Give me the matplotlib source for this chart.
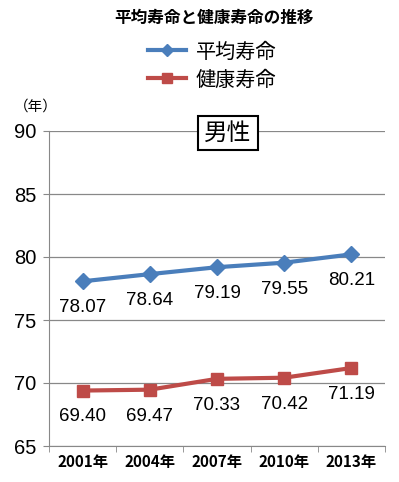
import matplotlib.pyplot as plt
from matplotlib.lines import Line2D

plt.rcParams['font.family'] = ['Noto Sans CJK JP', 'DejaVu Sans']

years = ["2001年", "2004年", "2007年", "2010年", "2013年"]
heikin = [78.07, 78.64, 79.19, 79.55, 80.21]
kenko = [69.40, 69.47, 70.33, 70.42, 71.19]

blue = "#4a7ebb"
red = "#be4b48"

fig = plt.figure(figsize=(3.99, 4.82), dpi=100)
W, H = 399, 482
ax = fig.add_axes([49 / W, 1 - 446 / H, (385 - 49) / W, (446 - 131) / H])

x = range(len(years))
ax.plot(x, heikin, color=blue, lw=3, marker="D", ms=8, zorder=3)
ax.plot(x, kenko, color=red, lw=3, marker="s", ms=9, zorder=3)

for i, v in enumerate(heikin):
    ax.annotate(f"{v:.2f}", (i, v), xytext=(0, -19), textcoords="offset points",
                ha="center", va="center", fontsize=13.5, family="Liberation Sans")
for i, v in enumerate(kenko):
    ax.annotate(f"{v:.2f}", (i, v), xytext=(0, -19), textcoords="offset points",
                ha="center", va="center", fontsize=13.5, family="Liberation Sans")

ax.set_xlim(-0.5, len(years) - 0.5)
ax.set_ylim(65, 90)
ax.set_yticks([65, 70, 75, 80, 85, 90])
ax.set_yticklabels(["65", "70", "75", "80", "85", "90"], family="Liberation Sans", fontsize=14.5)
ax.set_xticks(list(x))
ax.set_xticklabels(years, fontsize=11, fontweight="bold")
ax.set_xticks([i - 0.5 for i in range(len(years) + 1)], minor=True)
ax.tick_params(axis="x", which="major", length=0, pad=6)
ax.tick_params(axis="x", which="minor", length=4, color="#888888")
ax.tick_params(axis="y", length=4, color="#888888", pad=5)
ax.grid(axis="y", color="#888888", lw=0.9)
ax.set_axisbelow(True)
for s in ["top", "right"]:
    ax.spines[s].set_visible(False)
for s in ["left", "bottom"]:
    ax.spines[s].set_color("#888888")

fig.text(214 / W, 1 - 18 / H, "平均寿命と健康寿命の推移", ha="center", va="center",
         fontsize=12, fontweight="bold")

handles = [Line2D([], [], color=blue, lw=3, marker="D", ms=6),
           Line2D([], [], color=red, lw=3, marker="s", ms=7)]
fig.legend(handles, ["平均寿命", "健康寿命"], loc="center", bbox_to_anchor=(212 / W, 1 - 66 / H),
           frameon=False, fontsize=14.5, handlelength=1.9, labelspacing=0.35, handletextpad=0.5)

fig.text(36 / W, 1 - 107 / H, "（年）", ha="center", va="center", fontsize=10.5)
fig.text(228 / W, 1 - 133 / H, "男性", ha="center", va="center", fontsize=17,
         bbox=dict(boxstyle="square,pad=0.25", fc="white", ec="black", lw=1.5))

fig.savefig("out.png", dpi=100)
